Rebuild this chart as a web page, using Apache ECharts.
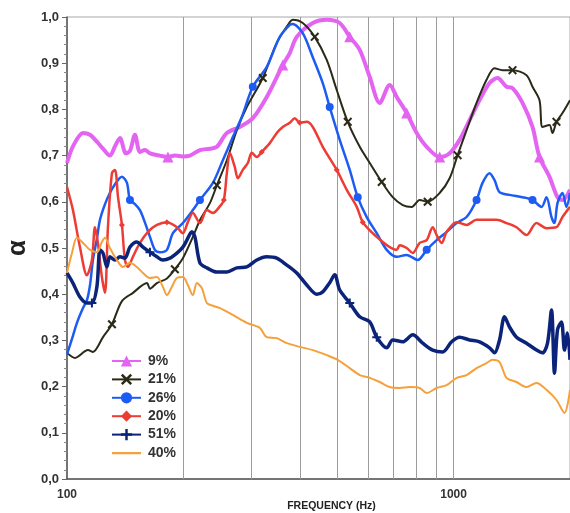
<!DOCTYPE html>
<html>
<head>
<meta charset="utf-8">
<script src="https://cdn.jsdelivr.net/npm/echarts/dist/echarts.min.js"></script>
<style>
html,body{margin:0;padding:0;background:#fff;}
#chart{width:570px;height:513px;}
</style>
</head>
<body>
<div id="chart"></div>
<script>
// Vertical reference lines (Hz)
const gridFreqs = [200,300,400,500,600,700,800,900,1000];

// 9%
const f9 = [100,103.6,110,114.7,119.5,123.9,129.1,133.1,137.1,142,145.5,149.9,154.4,159.1,163.9,173.9,182.4,190.1,199.4,207.9,220.7,234.2,244.2,259.1,279.9,302.4,328.6,361.5,376.9,392.9,432.2,469.7,507.5,538.7,571.7,606.8,644,683.5,712.5,756.3,802.6,851.8,920.3,976.5,1036.3,1099.7,1167.1,1238.6,1298.9,1370.4,1420.2,1507.3,1599.7,1667.8,1770.1,1856.4,1912.4,2000];
const a9 = [0.684,0.72,0.749,0.745,0.73,0.715,0.70,0.72,0.738,0.705,0.71,0.745,0.708,0.712,0.705,0.70,0.697,0.70,0.698,0.70,0.712,0.715,0.719,0.749,0.762,0.781,0.827,0.896,0.922,0.957,0.987,0.994,0.987,0.957,0.929,0.87,0.814,0.853,0.827,0.792,0.749,0.719,0.697,0.705,0.734,0.777,0.82,0.857,0.868,0.849,0.846,0.814,0.762,0.697,0.654,0.61,0.604,0.626];
const mk9 = [182.4,361.5,538.7,756.3,920.3,1667.8];

// 21%
const f21 = [100,104.9,113.3,116.7,123.9,130.7,138.7,148.1,161,163.9,170.8,181.3,190.1,199.4,211.6,220.7,234.2,244.2,259.1,275,291.8,320.9,348.8,376.9,383.6,407.2,437.3,469.7,498.5,532.3,571.7,606.8,651.7,695.8,738.5,779.1,817,856.9,920.3,976.5,1024.1,1080.3,1146.4,1216.7,1275.9,1338.2,1420.2,1543.6,1599.7,1667.8,1697.9,1770.1,1802,1845.4,1912.4,2000];
const a21 = [0.273,0.262,0.279,0.275,0.307,0.335,0.385,0.403,0.424,0.412,0.424,0.434,0.454,0.478,0.524,0.56,0.597,0.636,0.69,0.755,0.805,0.868,0.944,0.989,0.994,0.987,0.957,0.907,0.842,0.773,0.719,0.684,0.643,0.61,0.593,0.589,0.604,0.60,0.619,0.651,0.701,0.755,0.814,0.864,0.889,0.885,0.885,0.874,0.849,0.82,0.762,0.766,0.749,0.773,0.792,0.82];
const mk21 = [130.7,190.1,244.2,320.9,437.3,532.3,651.7,856.9,1024.1,1420.2,1845.4];

// 26%
const f26 = [100,103.6,106.1,110,112.6,114.7,116.7,119.5,121.7,125.4,129.1,133.1,138.7,142.9,145.5,149.9,154.4,159.1,163.9,168.8,173.9,181.3,187.9,199.4,211.6,220.7,238.4,253,268.5,283.3,302.4,328.6,355.1,376.9,383.6,407.2,432.2,458.7,478.1,507.5,538.7,564.9,596,632.6,671.4,712.5,756.3,807.4,851.8,904,959.4,1018,1080.3,1146.4,1188.1,1238.6,1275.9,1314.5,1395.1,1507.3,1599.7,1687.8,1738.8,1791.3,1823.6,1856.4,1912.4,1958.5,2000];
const a26 = [0.27,0.31,0.338,0.37,0.387,0.42,0.474,0.52,0.561,0.595,0.619,0.638,0.654,0.641,0.604,0.595,0.582,0.555,0.524,0.496,0.491,0.496,0.532,0.554,0.582,0.604,0.641,0.69,0.74,0.784,0.849,0.892,0.957,0.983,0.985,0.965,0.913,0.857,0.805,0.734,0.669,0.61,0.567,0.532,0.496,0.481,0.485,0.474,0.496,0.517,0.535,0.554,0.567,0.604,0.641,0.662,0.647,0.621,0.615,0.61,0.604,0.589,0.61,0.567,0.554,0.597,0.619,0.589,0.619];
const mk26 = [145.5,220.7,302.4,478.1,564.9,851.8,1146.4,1599.7];

// 20%
const f20 = [100,103.6,108,112.6,116,118.1,120.2,123.1,125.4,127.6,130.7,133.1,135.5,138.7,141.2,143.7,148.1,154.4,162,170.8,181.3,192.4,199.4,205.4,211.6,220.7,230,238.4,248.5,254.5,259.1,263.8,271.7,276.6,284.9,293.6,300.6,309.7,319,334.6,348.8,361.5,376.9,388.2,400,417,432.2,458.7,498.5,529.1,561.6,582,617.7,655.6,683.5,712.5,725.4,756.3,783.7,817,851.8,882.8,904,931.3,959.4,1018,1080.3,1146.4,1216.7,1291.2,1370.4,1454.4,1543.6,1638.3,1738.8,1845.4,1912.4,2000];
const a20 = [0.632,0.582,0.502,0.441,0.474,0.545,0.511,0.437,0.403,0.545,0.662,0.669,0.61,0.55,0.474,0.459,0.481,0.511,0.535,0.55,0.556,0.545,0.532,0.556,0.576,0.554,0.582,0.576,0.59,0.604,0.662,0.706,0.675,0.651,0.669,0.684,0.706,0.697,0.708,0.727,0.749,0.762,0.771,0.781,0.771,0.773,0.762,0.719,0.669,0.626,0.589,0.556,0.532,0.513,0.502,0.496,0.506,0.50,0.489,0.511,0.517,0.545,0.528,0.511,0.535,0.556,0.55,0.561,0.561,0.561,0.554,0.545,0.528,0.554,0.543,0.545,0.567,0.589];
const mk20 = [138.7,181.3,254.5,319,400,498.5,582];

// 51%
const f51 = [100,103.6,108,112.6,116,119.5,121.7,123.9,126.8,129.1,133.1,137.1,141.2,145.5,151.6,157.2,163.9,170.8,177,184.6,192.4,199.4,204.2,210.4,214.2,220.7,230,244.2,259.1,275,291.8,309.7,328.6,348.8,370.2,392.9,417,442.6,458.7,478.1,492.6,507.5,538.7,571.7,606.8,632.6,671.4,695.8,738.5,783.7,831.8,882.8,936.9,988.2,1036.3,1099.7,1167.1,1238.6,1275.9,1314.5,1354.2,1395.1,1454.4,1543.6,1638.3,1697.9,1749.2,1791.3,1823.6,1856.4,1901.1,1935.3,1970.2,2000];
const a51 = [0.446,0.424,0.394,0.381,0.381,0.416,0.496,0.489,0.459,0.481,0.474,0.481,0.478,0.502,0.513,0.502,0.491,0.481,0.474,0.478,0.489,0.502,0.517,0.535,0.524,0.468,0.457,0.448,0.448,0.457,0.459,0.474,0.481,0.478,0.463,0.446,0.42,0.40,0.405,0.425,0.442,0.409,0.381,0.351,0.34,0.307,0.284,0.301,0.297,0.312,0.294,0.279,0.275,0.297,0.307,0.301,0.297,0.284,0.273,0.301,0.351,0.329,0.307,0.294,0.279,0.273,0.294,0.366,0.229,0.323,0.34,0.279,0.316,0.258];
const mk51 = [116,163.9,538.7,632.6];

// 40%
const f40 = [100,103,106.1,110,114.7,119.5,123.1,125.4,129.1,134.6,139.5,145.5,151.6,157.2,163.9,170.8,177,181.3,186.8,192.4,199.4,205.4,211.6,216.7,223.3,230,238.4,248.5,268.5,291.8,315.3,328.6,348.8,370.2,400,432.2,469.7,501.5,538.7,571.7,606.8,644,683.5,725.4,769.9,817,851.8,904,959.4,1018,1080.3,1146.4,1216.7,1260.9,1314.5,1370.4,1454.4,1543.6,1638.3,1738.8,1845.4,1935.3,2000];
const a40 = [0.446,0.489,0.522,0.511,0.496,0.491,0.513,0.522,0.50,0.474,0.459,0.468,0.459,0.446,0.435,0.437,0.416,0.398,0.416,0.435,0.437,0.42,0.398,0.424,0.413,0.381,0.375,0.37,0.355,0.338,0.327,0.307,0.305,0.294,0.286,0.279,0.268,0.258,0.24,0.225,0.219,0.21,0.199,0.197,0.199,0.197,0.186,0.197,0.203,0.219,0.225,0.24,0.251,0.258,0.253,0.219,0.21,0.199,0.208,0.193,0.171,0.143,0.193];
const mk40 = [];

const legendNames = ['9%', '21%', '26%', '20%', '51%', '40%'];

const X_SYM = 'path://M0,1.6L1.6,0L5,3.4L8.4,0L10,1.6L6.6,5L10,8.4L8.4,10L5,6.6L1.6,10L0,8.4L3.4,5Z';
const PLUS_SYM = 'path://M3.9,0H6.1V3.9H10V6.1H6.1V10H3.9V6.1H0V3.9H3.9Z';
const LINE_ICON = 'path://M0,0H30V0.01H0Z M0,6H30V8.2H0Z M0,14H30V14.01H0Z';

function makeSeries(name, fs, as, marks, color, width, symbol, size) {
  return {
    name: name,
    type: 'line',
    symbol: symbol,
    symbolSize: size,
    showSymbol: true,
    smooth: 0.3,
    animation: false,
    emphasis: { disabled: true },
    lineStyle: { color: color, width: width },
    itemStyle: { color: color, borderWidth: 0 },
    data: fs.map(function (f, i) {
      return marks.indexOf(f) >= 0 ? [f, as[i]] : { value: [f, as[i]], symbol: 'none' };
    })
  };
}

const chart = echarts.init(document.getElementById('chart'), null, { renderer: 'canvas' });

const series = [
  {
    name: 'grid', type: 'line', data: [], z: 1, silent: true, animation: false,
    markLine: {
      silent: true, z: 1, animation: false,
      symbol: ['none', 'none'],
      label: { show: false },
      lineStyle: { color: '#9c9c9c', width: 1, type: 'solid' },
      data: gridFreqs.map(function (f) { return { xAxis: f }; })
    }
  },
  makeSeries('9%', f9, a9, mk9, '#E464F2', 4, 'triangle', 11),
  makeSeries('21%', f21, a21, mk21, '#2B2A18', 2, X_SYM, 9),
  makeSeries('26%', f26, a26, mk26, '#1D5CF2', 2.5, 'circle', 8),
  makeSeries('20%', f20, a20, mk20, '#EC3C34', 2.5, 'diamond', 6),
  makeSeries('51%', f51, a51, mk51, '#0B2479', 3.5, PLUS_SYM, 9),
  makeSeries('40%', f40, a40, mk40, '#F6A03C', 2, 'none', 0)
];

chart.setOption({
  backgroundColor: '#ffffff',
  animation: false,
  textStyle: { fontFamily: 'Liberation Sans, Arial, sans-serif' },
  grid: {
    left: 67, right: 0, top: 17, bottom: 34,
    outerBoundsMode: 'none', containLabel: false,
    show: true, borderColor: '#a8a8a8', borderWidth: 1, backgroundColor: 'transparent'
  },
  legend: {
    orient: 'vertical',
    left: 106, top: 349,
    itemWidth: 29, itemHeight: 14, itemGap: 4.4,
    data: legendNames.map(function (n) {
      return n === '40%' ? { name: n, icon: LINE_ICON } : { name: n };
    }),
    textStyle: { fontSize: 14, color: '#333', fontWeight: 'bold', padding: [0, 0, 0, 2] }
  },
  xAxis: {
    type: 'log', logBase: 10, min: 100, max: 2000,
    axisLine: { show: true, lineStyle: { color: '#555', width: 1.5 } },
    axisTick: { show: false },
    splitLine: { show: false },
    axisLabel: {
      formatter: function (v) { return String(Math.round(v)); },
      showMaxLabel: false, margin: 10, fontSize: 12, color: '#333', fontWeight: 'bold'
    },
    name: 'FREQUENCY (Hz)', nameLocation: 'middle', nameGap: 22, nameMoveOverlap: false,
    nameTextStyle: { fontSize: 10.5, fontWeight: 'bold', color: '#222', padding: [0, 0, 0, 26] }
  },
  yAxis: {
    type: 'value', min: 0, max: 1, interval: 0.1,
    axisLine: { show: true, lineStyle: { color: '#555', width: 1.5 } },
    axisTick: { show: true, length: 5, lineStyle: { color: '#666' } },
    minorTick: { show: true, splitNumber: 5, length: 3, lineStyle: { color: '#888' } },
    splitLine: { show: false },
    axisLabel: {
      formatter: function (v) { return v.toFixed(1).replace('.', ','); },
      fontSize: 13, color: '#333', fontWeight: 'bold', margin: 8
    },
    name: 'α', nameLocation: 'middle', nameRotate: 90, nameGap: 36, nameMoveOverlap: false,
    nameTextStyle: { fontSize: 26, fontWeight: 'bold', color: '#222' }
  },
  series: series
});
</script>
</body>
</html>
